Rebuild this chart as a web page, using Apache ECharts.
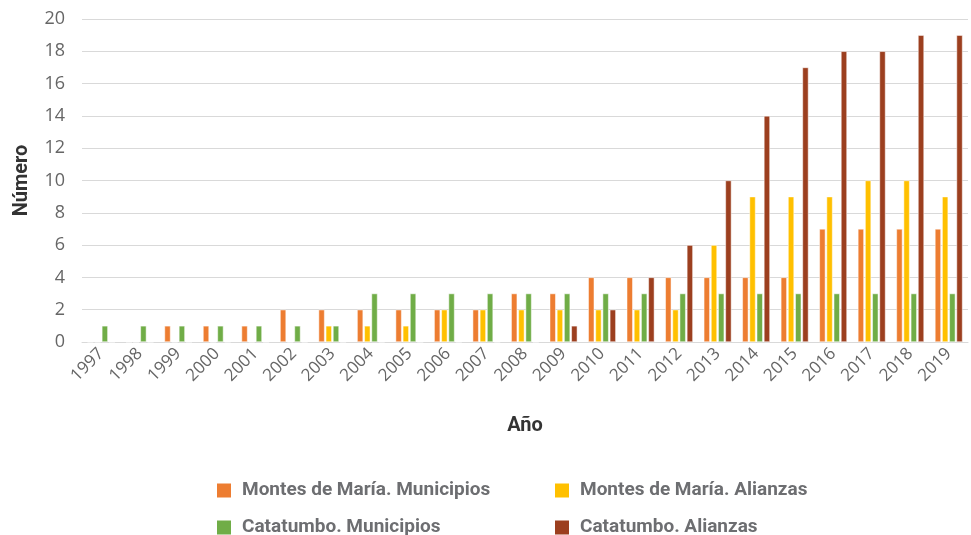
<!DOCTYPE html>
<html>
<head>
<meta charset="utf-8">
<script src="https://cdn.jsdelivr.net/npm/echarts@6/dist/echarts.min.js"></script>
<style>
  html, body { margin: 0; padding: 0; background: #fff; }
  #chart { width: 971px; height: 535px; }
</style>
</head>
<body>
<div id="chart"></div>
<script>
// Años
const years = ['1997','1998','1999','2000','2001','2002','2003','2004','2005','2006','2007','2008',
               '2009','2010','2011','2012','2013','2014','2015','2016','2017','2018','2019'];

// Series
const montesMunicipios = [0,0,1,1,1,2,2,2,2,2,2,3,3,4,4,4,4,4,4,7,7,7,7];
const montesAlianzas   = [0,0,0,0,0,0,1,1,1,2,2,2,2,2,2,2,6,9,9,9,10,10,9];
const catatumboMunicipios = [1,1,1,1,1,1,1,3,3,3,3,3,3,3,3,3,3,3,3,3,3,3,3];
const catatumboAlianzas   = [0,0,0,0,0,0,0,0,0,0,0,0,1,2,4,6,10,14,17,18,18,19,19];

const seriesNames = [
  'Montes de María. Municipios',
  'Montes de María. Alianzas',
  'Catatumbo. Municipios',
  'Catatumbo. Alianzas'
];
const seriesData = [montesMunicipios, montesAlianzas, catatumboMunicipios, catatumboAlianzas];
const seriesColors = ['#ED7D31', '#FFC000', '#70AD47', '#9C3F1F'];

const yTicks = { min: 0, max: 20, interval: 2 };

const narrow = '"Liberation Sans Narrow", "Roboto", sans-serif';

const legendPos = [
  { left: 210, top: 476 },
  { left: 548, top: 476 },
  { left: 210, top: 513 },
  { left: 548, top: 513 }
];

const chart = echarts.init(document.getElementById('chart'), null, { renderer: 'canvas' });

chart.setOption({
  animation: false,
  backgroundColor: '#ffffff',
  grid: { left: 82, right: 3, top: 19, bottom: 193, containLabel: false },
  legend: seriesNames.map((n, i) => ({
    data: [n],
    left: legendPos[i].left,
    top: legendPos[i].top,
    itemWidth: 16,
    itemHeight: 16,
    icon: 'rect',
    itemGap: 0,
    textStyle: { fontFamily: narrow, fontWeight: 'bold', fontSize: 19, color: '#6D6E71', padding: [0, 0, 0, 5] }
  })),
  xAxis: {
    type: 'category',
    data: years,
    name: 'Año',
    nameLocation: 'middle',
    nameGap: 74,
    nameTextStyle: { fontFamily: narrow, fontWeight: 'bold', fontSize: 20, color: '#333333' },
    axisLine: { show: true, lineStyle: { color: '#D9D9D9', width: 1 } },
    axisTick: { show: false },
    axisLabel: {
      interval: 0,
      rotate: 45,
      margin: 9,
      fontFamily: '"Open Sans", "Noto Sans", sans-serif',
      fontSize: 17,
      color: '#666666'
    }
  },
  yAxis: {
    type: 'value',
    min: yTicks.min,
    max: yTicks.max,
    interval: yTicks.interval,
    name: 'Número',
    nameLocation: 'middle',
    nameGap: 50,
    nameRotate: 90,
    nameTextStyle: { fontFamily: narrow, fontWeight: 'bold', fontSize: 20, color: '#333333' },
    axisLine: { show: false },
    axisTick: { show: false },
    axisLabel: {
      margin: 17,
      fontFamily: '"Open Sans", "Noto Sans", sans-serif',
      fontSize: 18,
      color: '#666666'
    },
    splitLine: { show: true, lineStyle: { color: '#D9D9D9', width: 1 } }
  },
  series: seriesNames.map((n, i) => ({
    name: n,
    type: 'bar',
    data: seriesData[i],
    barWidth: 6,
    barGap: '20%',
    itemStyle: { color: seriesColors[i], borderColor: '#ffffff', borderWidth: 0.5 }
  }))
});
</script>
</body>
</html>
